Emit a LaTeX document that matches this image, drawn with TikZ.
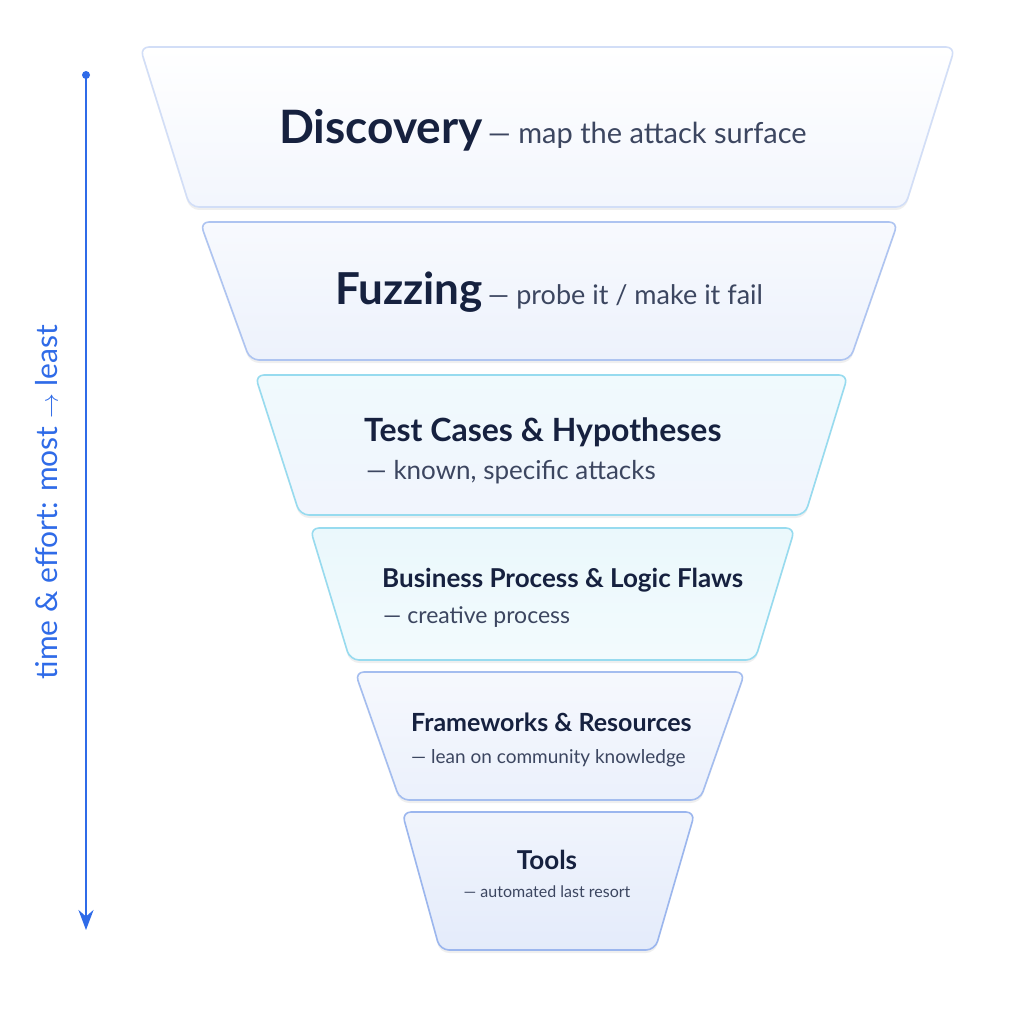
\documentclass[tikz,border=0pt]{standalone}
\usepackage{fontspec}
\setmainfont{Lato}
\usetikzlibrary{arrows.meta,positioning,shadows}

\definecolor{navy}{HTML}{16213F}
\definecolor{slate}{HTML}{3C4660}
\definecolor{flow}{HTML}{2F6BE8}
\definecolor{sky}{HTML}{4A7BE0}
\definecolor{aqua}{HTML}{2FB8E0}

\tikzset{
  layer/.style={draw=#1, line width=1.6pt, rounded corners=9pt, drop shadow={opacity=0.12,shadow xshift=0pt,shadow yshift=-3pt}},
  ttl/.style={text=navy, font=\bfseries},
  sub/.style={text=slate},
}

\newcommand{\fs}[1]{\fontsize{#1}{#1}\selectfont}

\begin{document}
\begin{tikzpicture}[x=1pt,y=-1pt]
  \useasboundingbox[fill=white] (0,0) rectangle (1024,1024);
  % funnel layers
  \draw[layer=sky!25, top color=white, bottom color=sky!7] (140,47) -- (955,47) -- (905,207) -- (190,207) -- cycle;
  \draw[layer=sky!45, top color=sky!4, bottom color=sky!10] (200,222) -- (898,222) -- (850,360) -- (250,360) -- cycle;
  \draw[layer=aqua!50, top color=aqua!7, bottom color=sky!8] (255,375) -- (848,375) -- (805,515) -- (300,515) -- cycle;
  \draw[layer=aqua!50, top color=aqua!10, bottom color=aqua!6] (310,528) -- (795,528) -- (755,660) -- (350,660) -- cycle;
  \draw[layer=sky!50, top color=sky!5, bottom color=sky!11] (355,672) -- (745,672) -- (700,800) -- (400,800) -- cycle;
  \draw[layer=sky!55, top color=sky!8, bottom color=sky!15] (402,812) -- (695,812) -- (655,950) -- (440,950) -- cycle;
  % labels
  \node[inner sep=0] (disc) at (543,130) {{\color{navy}\fs{46}\bfseries Discovery}\enspace{\color{slate}\fs{29}— map the attack surface}};
  \node[inner sep=0] (fuzz) at (549,292) {{\color{navy}\fs{44}\bfseries Fuzzing}\enspace{\color{slate}\fs{27}— probe it / make it fail}};
  \node[ttl, anchor=west, inner sep=0, font=\fs{32}\bfseries] (test) at (364,432) {Test Cases \& Hypotheses};
  \node[sub, anchor=west, inner sep=0, font=\fs{26}] (testsub) at (366,472) {— known, specific attacks};
  \node[ttl, anchor=west, inner sep=0, font=\fs{26}\bfseries] (biz) at (382,580) {Business Process \& Logic Flaws};
  \node[sub, anchor=west, inner sep=0, font=\fs{23}] (bizsub) at (383,617) {— creative process};
  \node[ttl, anchor=west, inner sep=0, font=\fs{25}\bfseries] (frame) at (411,722) {Frameworks \& Resources};
  \node[sub, anchor=west, inner sep=0, font=\fs{19}] (framesub) at (411,758) {— lean on community knowledge};
  \node[ttl, inner sep=0, font=\fs{26}\bfseries] (tools) at (547,860) {Tools};
  \node[sub, inner sep=0, font=\fs{16}] (toolsub) at (547,892) {— automated last resort};
  % effort axis
  \coordinate (top) at (86,75);
  \coordinate (bot) at (86,930);
  \fill[flow] (top) circle (4);
  \draw[flow, line width=2pt, -{Stealth[length=20pt,width=15pt]}] (top) -- (bot);
  \node[rotate=90, text=flow, font=\fs{30}] (axis) at (47,502) {time \& effort: most $\rightarrow$ least};
\end{tikzpicture}
\end{document}
